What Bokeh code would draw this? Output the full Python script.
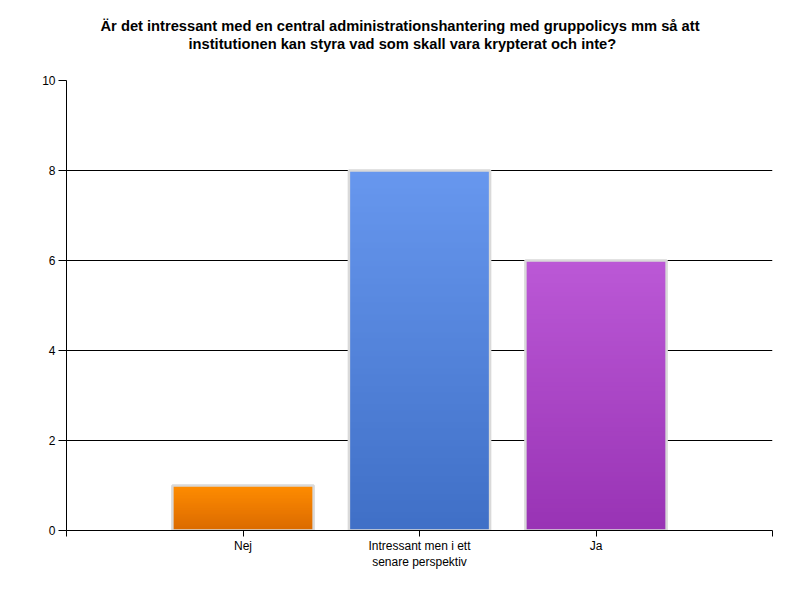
import numpy as np
from bokeh.plotting import figure
from bokeh.models import FixedTicker, Range1d, Title
from bokeh.embed import file_html
from bokeh.resources import INLINE

# Data
categories = ["Nej", "Intressant men i ett\nsenare perspektiv", "Ja"]
values = [1, 8, 6]
top_colors = ["#ff8c00", "#6797ee", "#bb58d6"]
bottom_colors = ["#da6a00", "#3f6fc6", "#9833b4"]
title_lines = ["Är det intressant med en central administrationshantering med gruppolicys mm så att",
               "institutionen kan styra vad som skall vara krypterat och inte?"]
y_ticks = [0, 2, 4, 6, 8, 10]

FONT = "Liberation Sans"

p = figure(width=800, height=600, output_backend="svg", toolbar_location=None,
           x_range=Range1d(0, len(categories) + 1), y_range=Range1d(0, 10),
           min_border_left=66, min_border_right=28, min_border_top=80, min_border_bottom=70)
p.outline_line_color = None
p.background_fill_color = "white"
p.border_fill_color = "white"

# Title (two lines), with a spacer title below to lift them
p.title.visible = False
spacer = Title(text=" ", text_font_size="1px", standoff=26, text_color="white")
t2 = Title(text=title_lines[1], align="left", text_font=FONT, text_font_size="14.7px",
           text_font_style="bold", text_color="black", offset=122, standoff=0)
t1 = Title(text=title_lines[0], align="left", text_font=FONT, text_font_size="14.7px",
           text_font_style="bold", text_color="black", offset=34, standoff=0)
p.add_layout(spacer, "above")
p.add_layout(t2, "above")
p.add_layout(t1, "above")

def hex2rgb(h):
    h = h.lstrip("#")
    return np.array([int(h[i:i + 2], 16) for i in (0, 2, 4)], dtype=float)

# Gradient bars: overlapping slices drawn from tallest to shortest (no seams)
N = 60
width = 0.8
for i, (v, tc, bc) in enumerate(zip(values, top_colors, bottom_colors)):
    xpos = i + 1
    tops = np.linspace(v, v / N, N)
    frac = tops / v
    c0, c1 = hex2rgb(bc), hex2rgb(tc)
    cols = ["#%02x%02x%02x" % tuple(np.round(c0 + (c1 - c0) * f).astype(int)) for f in frac]
    p.vbar(x=[xpos] * N, width=width, bottom=[0] * N, top=tops,
           fill_color=cols, line_color=None)
    p.vbar(x=[xpos], width=width, bottom=[0], top=[v], fill_color=None,
           line_color="#d9d9d9", line_width=2.5)

# Grid
p.xgrid.visible = False
p.ygrid.ticker = FixedTicker(ticks=y_ticks[1:])
p.ygrid.grid_line_color = "black"
p.ygrid.grid_line_width = 1
p.ygrid.level = "underlay"

# Axes
p.yaxis.ticker = FixedTicker(ticks=y_ticks)
p.yaxis.axis_line_color = "black"
p.yaxis.major_tick_line_color = "black"
p.yaxis.major_tick_out = 8
p.yaxis.major_tick_in = 0
p.yaxis.minor_tick_line_color = None
p.yaxis.major_label_text_font = FONT
p.yaxis.major_label_text_font_size = "12px"
p.yaxis.major_label_text_color = "black"
p.yaxis.major_label_standoff = 3

xt = list(range(0, len(categories) + 2))
p.xaxis.ticker = FixedTicker(ticks=xt)
overrides = {0: "", len(categories) + 1: ""}
for i, c in enumerate(categories):
    overrides[i + 1] = c
p.xaxis.major_label_overrides = overrides
p.xaxis.axis_line_color = "black"
p.xaxis.major_tick_line_color = "black"
p.xaxis.major_tick_out = 6
p.xaxis.major_tick_in = 0
p.xaxis.minor_tick_line_color = None
p.xaxis.major_label_text_font = FONT
p.xaxis.major_label_text_font_size = "12px"
p.xaxis.major_label_text_color = "black"
p.xaxis.major_label_standoff = 2

open("out.html", "w").write(file_html(p, INLINE))
